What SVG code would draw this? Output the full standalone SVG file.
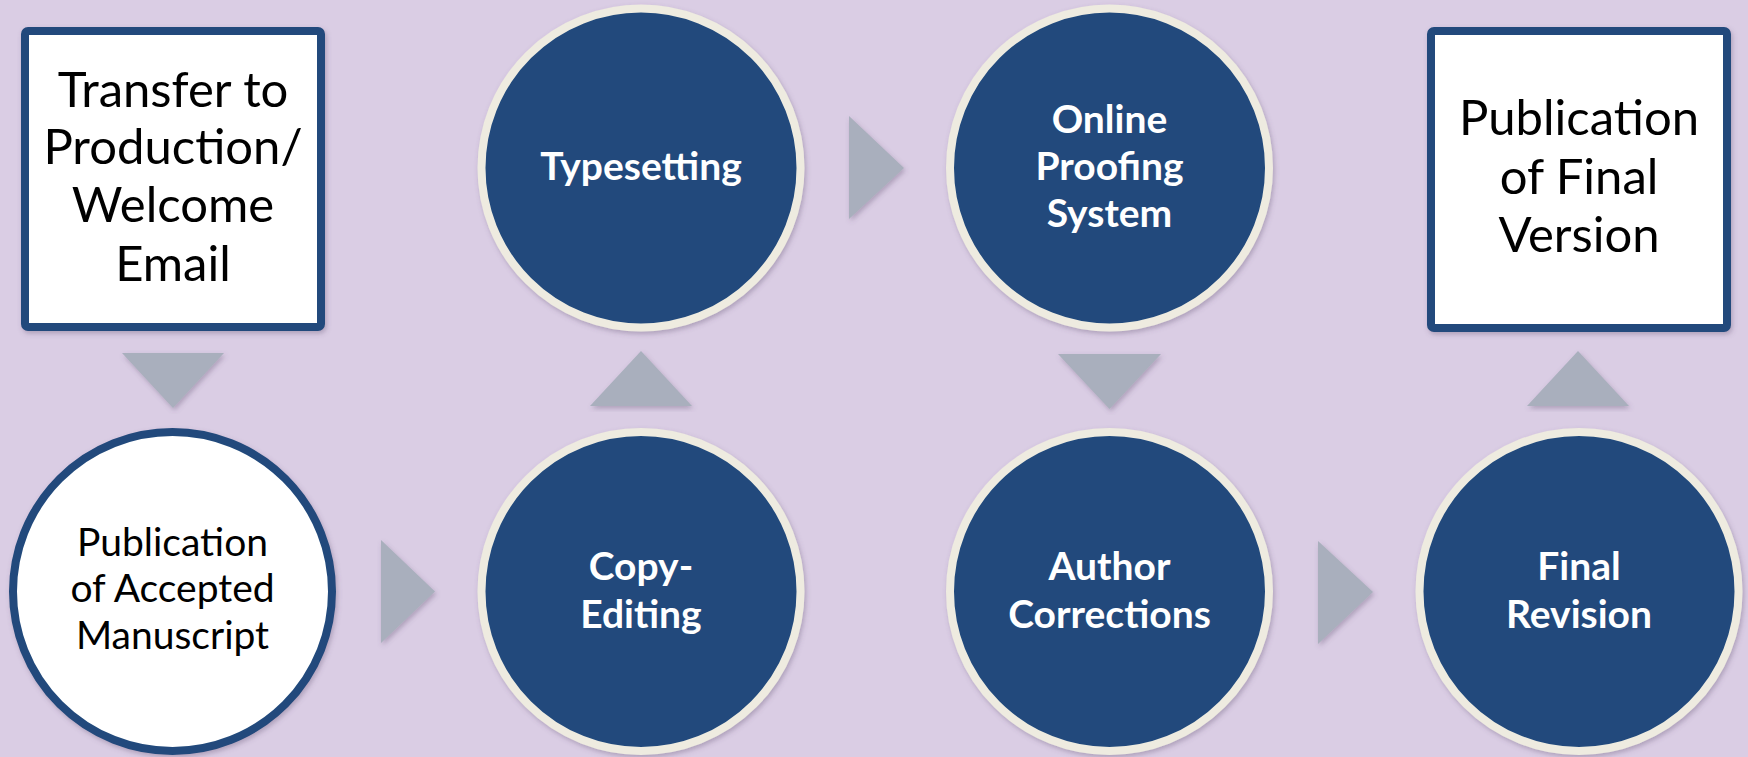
<svg xmlns="http://www.w3.org/2000/svg" width="1748" height="757" viewBox="0 0 1748 757">
<defs>
<filter id="sh" x="-10%" y="-10%" width="120%" height="120%">
<feDropShadow dx="1.5" dy="2.5" stdDeviation="2.5" flood-color="#5a4a6a" flood-opacity="0.35"/>
</filter>
<style>
.bg{fill:#dacde4}
.arrow{fill:#a9afbd;filter:url(#sh)}
.box{fill:#ffffff;stroke:#214a7c;stroke-width:8;filter:url(#sh)}
.wc{fill:#ffffff;stroke:#214a7c;stroke-width:8;filter:url(#sh)}
.bc{fill:#214a7c;stroke:#eeebe0;stroke-width:8;filter:url(#sh)}
.tb{font-family:Lato,"Open Sans","Liberation Sans",sans-serif;font-size:49px;fill:#000;text-anchor:middle}
.tc{font-family:Lato,"Open Sans","Liberation Sans",sans-serif;font-size:39px;fill:#000;text-anchor:middle}
.tw{font-family:Lato,"Open Sans","Liberation Sans",sans-serif;font-size:39px;font-weight:bold;fill:#fff;text-anchor:middle}
</style>
</defs>
<rect class="bg" x="0" y="0" width="1748" height="757"/>
<g id="connectors">
<polygon class="arrow" points="122,353 224,353 173,408"/>
<polygon class="arrow" points="381,540 381,643 435,591.5"/>
<polygon class="arrow" points="590,406 692,406 641,351"/>
<polygon class="arrow" points="849,116 849,219 904,168"/>
<polygon class="arrow" points="1058,354 1161,354 1109.5,409"/>
<polygon class="arrow" points="1318,541 1318,644 1373,592"/>
<polygon class="arrow" points="1527,406 1629,406 1578,351"/>
</g>
<g id="node-transfer">
<rect class="box" x="25" y="31" width="296" height="296" rx="3"/>
<text class="tb" x="173" y="107">Transfer to</text>
<text class="tb" x="173" y="164">Production/</text>
<text class="tb" x="173" y="222">Welcome</text>
<text class="tb" x="173" y="281">Email</text>
</g>
<g id="node-accepted">
<circle class="wc" cx="172.5" cy="591.5" r="159.5"/>
<text class="tc" x="172.5" y="556">Publication</text>
<text class="tc" x="172.5" y="602">of Accepted</text>
<text class="tc" x="172.5" y="649">Manuscript</text>
</g>
<g id="node-copyediting">
<circle class="bc" cx="641" cy="591.5" r="159.5"/>
<text class="tw" x="641" y="580">Copy-</text>
<text class="tw" x="641" y="628">Editing</text>
</g>
<g id="node-typesetting">
<circle class="bc" cx="641" cy="168" r="159.5"/>
<text class="tw" x="641" y="180">Typesetting</text>
</g>
<g id="node-proofing">
<circle class="bc" cx="1109.5" cy="168" r="159.5"/>
<text class="tw" x="1109.5" y="133">Online</text>
<text class="tw" x="1109.5" y="180">Proofing</text>
<text class="tw" x="1109.5" y="227">System</text>
</g>
<g id="node-corrections">
<circle class="bc" cx="1109.5" cy="591.5" r="159.5"/>
<text class="tw" x="1109.5" y="580">Author</text>
<text class="tw" x="1109.5" y="628">Corrections</text>
</g>
<g id="node-finalrevision">
<circle class="bc" cx="1579" cy="591.5" r="159.5"/>
<text class="tw" x="1579" y="580">Final</text>
<text class="tw" x="1579" y="628">Revision</text>
</g>
<g id="node-finalversion">
<rect class="box" x="1431" y="31" width="296" height="297" rx="3"/>
<text class="tb" x="1579" y="135">Publication</text>
<text class="tb" x="1579" y="194">of Final</text>
<text class="tb" x="1579" y="252">Version</text>
</g>
</svg>
